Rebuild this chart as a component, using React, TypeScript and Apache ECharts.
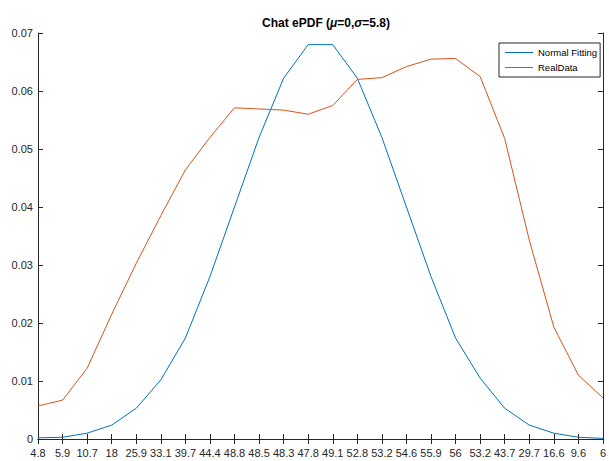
import React, { useEffect, useRef } from "react";
import * as echarts from "echarts";

const categories = ["4.8", "5.9", "10.7", "18", "25.9", "33.1", "39.7", "44.4", "48.8", "48.5", "48.3", "47.8", "49.1", "52.8", "53.2", "54.6", "55.9", "56", "53.2", "43.7", "29.7", "16.6", "9.6", "6"];
const normalFitting = [0.0002, 0.0003, 0.001, 0.0024, 0.0053, 0.0102, 0.0174, 0.028, 0.040, 0.052, 0.0622, 0.068, 0.068, 0.0622, 0.052, 0.040, 0.028, 0.0174, 0.0105, 0.0053, 0.0024, 0.001, 0.0003, 0.0001];
const realData = [0.0057, 0.0067, 0.0122, 0.0215, 0.0303, 0.0385, 0.0464, 0.052, 0.0571, 0.0569, 0.0567, 0.056, 0.0575, 0.062, 0.0623, 0.0642, 0.0655, 0.0656, 0.0625, 0.0518, 0.0343, 0.0193, 0.011, 0.0071];
const yTicks = [0, 0.01, 0.02, 0.03, 0.04, 0.05, 0.06, 0.07];

const AXIS = "#262626";
const FONT = "Liberation Sans, Arial, sans-serif";

export default function App() {
  const ref = useRef<HTMLDivElement>(null);
  useEffect(() => {
    if (!ref.current) return;
    const chart = echarts.init(ref.current, null, { renderer: "svg" });
    const tickStyle = { inside: true, length: 5, lineStyle: { color: AXIS, width: 1 } };
    chart.setOption({
      animation: false,
      backgroundColor: "#ffffff",
      textStyle: { fontFamily: FONT },
      title: {
        text: "Chat ePDF ({i|μ}=0,{i|σ}=5.8)",
        left: 321,
        textAlign: "center",
        top: 12,
        textStyle: {
          fontFamily: FONT,
          fontSize: 12,
          fontWeight: "bold",
          color: "#000",
          rich: {
            i: { fontFamily: FONT, fontSize: 12, fontWeight: "bold", fontStyle: "italic", color: "#000" },
          },
        },
      },
      legend: {
        left: 499,
        top: 43,
        orient: "vertical",
        backgroundColor: "#fff",
        borderColor: AXIS,
        borderWidth: 1,
        borderRadius: 0,
        padding: [4, 3, 4, 6],
        itemWidth: 28,
        itemHeight: 1,
        itemGap: 4,
        icon: "rect",
        textStyle: { fontFamily: FONT, fontSize: 9.5, color: "#000", lineHeight: 11 },
        data: ["Normal Fitting", "RealData"],
      },
      grid: { left: 38, right: 5, top: 33, bottom: 22, containLabel: false },
      xAxis: [
        {
          type: "category",
          data: categories,
          boundaryGap: false,
          axisLine: { lineStyle: { color: AXIS, width: 1 } },
          axisTick: { ...tickStyle, interval: 0 },
          axisLabel: { interval: 0, fontSize: 11, color: AXIS, margin: 8, fontFamily: FONT },
          splitLine: { show: false },
        },
        {
          type: "category",
          data: categories,
          position: "top",
          boundaryGap: false,
          axisLine: { lineStyle: { color: AXIS, width: 1 } },
          axisTick: { ...tickStyle, interval: 0 },
          axisLabel: { show: false },
          splitLine: { show: false },
        },
      ],
      yAxis: [
        {
          type: "value",
          min: 0,
          max: 0.07,
          interval: 0.01,
          axisLine: { show: true, lineStyle: { color: AXIS, width: 1 } },
          axisTick: { show: true, ...tickStyle },
          axisLabel: {
            fontSize: 11,
            color: AXIS,
            margin: 5,
            fontFamily: FONT,
            formatter: (v: number) => {
              const t = yTicks.find((x) => Math.abs(x - v) < 1e-9);
              return t === 0 ? "0" : String(Number(v.toFixed(2)));
            },
          },
          splitLine: { show: false },
        },
        {
          type: "value",
          min: 0,
          max: 0.07,
          interval: 0.01,
          position: "right",
          axisLine: { show: true, lineStyle: { color: AXIS, width: 1 } },
          axisTick: { show: true, ...tickStyle },
          axisLabel: { show: false },
          splitLine: { show: false },
        },
      ],
      series: [
        {
          name: "Normal Fitting",
          type: "line",
          data: normalFitting,
          showSymbol: false,
          symbol: "none",
          color: "#0072BD",
          lineStyle: { width: 1, color: "#0072BD" },
        },
        {
          name: "RealData",
          type: "line",
          data: realData,
          showSymbol: false,
          symbol: "none",
          color: "#D95319",
          lineStyle: { width: 1, color: "#D95319" },
        },
      ],
    });
    return () => chart.dispose();
  }, []);
  return (
    <div
      ref={ref}
      style={{ position: "fixed", left: 0, top: 0, width: 609, height: 461, background: "#fff" }}
    />
  );
}
